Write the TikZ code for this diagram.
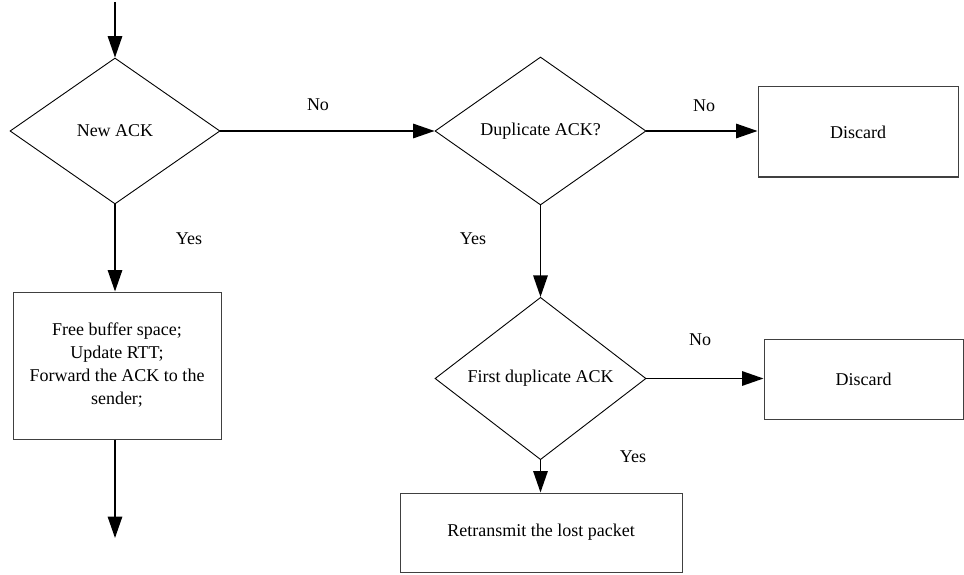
\documentclass[tikz,border=0pt]{standalone}
\usepackage{fontspec}
\setmainfont{Liberation Serif}
\newfontfamily\tnrfont{Liberation Serif}
\usetikzlibrary{shapes.geometric,arrows.meta}
\begin{document}
\begin{tikzpicture}[x=1pt,y=-1pt,
  every node/.style={font=\tnrfont\fontsize{18pt}{23pt}\selectfont, inner sep=0pt},
  decision/.style={diamond, draw=black, line width=0.9pt, inner sep=0pt},
  procbox/.style={rectangle, draw=black!75, line width=1pt, align=center},
  flow/.style={line width=1.5pt, -{Triangle[length=21.5pt,width=14.5pt]}},
  lbl/.style={}]
\useasboundingbox[fill=white] (0,0) rectangle (964,575);
\coordinate (start) at (115,2);
\node[decision, minimum width=210pt, minimum height=146pt] (newack) at (115,131) {New ACK};
\node[decision, minimum width=211pt, minimum height=148pt] (dup) at (540.5,131) {Duplicate ACK?};
\node[procbox, minimum width=200pt, minimum height=90pt] (disc1) at (858,132) {Discard};
\node[procbox, minimum width=208pt, minimum height=147pt] (free) at (117,365.5) {Free buffer space;\\Update RTT;\\Forward the ACK to the\\sender;};
\coordinate (end) at (115,538);
\node[decision, minimum width=211pt, minimum height=147pt] (first) at (540.5,378.5) {First duplicate ACK};
\node[procbox, minimum width=199pt, minimum height=80pt] (disc2) at (863.5,379) {Discard};
\node[procbox, minimum width=282pt, minimum height=79pt] (retx) at (541,532.5) {Retransmit the lost packet};

\draw[flow] (start) -- (newack.north);
\draw[flow] (newack.east) -- (dup.west);
\draw[flow] (dup.east) -- (disc1.west |- dup.east);
\draw[flow] (newack.south) -- (newack.south |- free.north);
\draw[flow] (newack.south |- free.south) -- (end);
\draw[flow] (dup.south) -- (first.north);
\draw[flow] (first.east) -- (disc2.west |- first.east);
\draw[flow] (first.south) -- (first.south |- retx.north);

\node[lbl] (no1) at (318,105) {No};
\node[lbl] (no2) at (704,106) {No};
\node[lbl] (no3) at (700,340) {No};
\node[lbl] (yes1) at (189,239) {Yes};
\node[lbl] (yes2) at (473,239) {Yes};
\node[lbl] (yes3) at (633,457) {Yes};
\end{tikzpicture}
\end{document}
